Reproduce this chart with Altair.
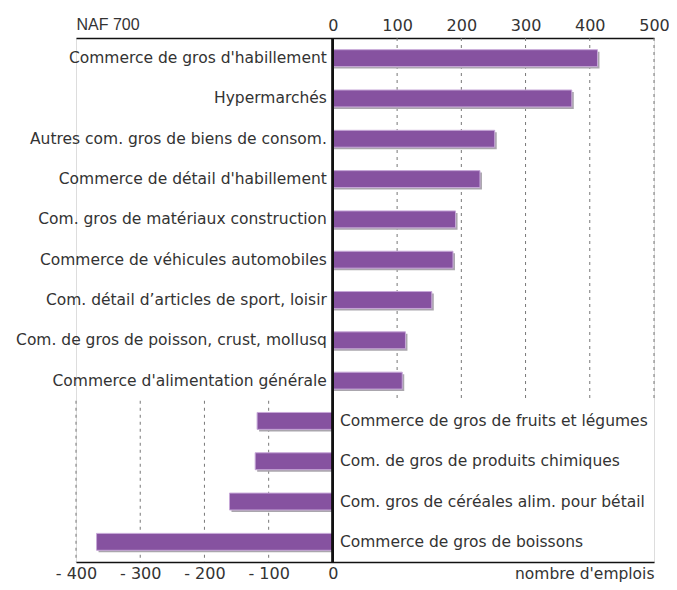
import altair as alt
import pandas as pd

categories = [
    "Commerce de gros d'habillement",
    "Hypermarchés",
    "Autres com. gros de biens de consom.",
    "Commerce de détail d'habillement",
    "Com. gros de matériaux construction",
    "Commerce de véhicules automobiles",
    "Com. détail d’articles de sport, loisir",
    "Com. de gros de poisson, crust, mollusq",
    "Commerce d'alimentation générale",
    "Commerce de gros de fruits et légumes",
    "Com. de gros de produits chimiques",
    "Com. gros de céréales alim. pour bétail",
    "Commerce de gros de boissons",
]
values = [412, 372, 252, 229, 191, 187, 154, 113, 108, -118, -121, -161, -368]
top_ticks = [0, 100, 200, 300, 400, 500]
bottom_ticks = [-400, -300, -200, -100, 0]
pos_grid = [100, 200, 300, 400, 500]
neg_grid = [-400, -300, -200, -100]

W, H = 578, 524
FONT = "DejaVu Sans"
TXT = "#333333"
LAB = 15.5
n_pos = sum(1 for v in values if v >= 0)
split = H * n_pos / len(categories)

df = pd.DataFrame({"cat": categories, "val": values})

xscale = alt.Scale(domain=[-400, 500], nice=False, zero=False)
yscale = alt.Scale(domain=categories, paddingInner=0.58, paddingOuter=0.29)

grid_pos = alt.Chart(pd.DataFrame({"g": pos_grid})).mark_rule(
    color="#777777", strokeDash=[3, 4], strokeWidth=1
).encode(
    x=alt.X("g:Q", scale=xscale, axis=None),
    y=alt.value(0), y2=alt.value(split),
)
grid_neg = alt.Chart(pd.DataFrame({"g": neg_grid})).mark_rule(
    color="#777777", strokeDash=[3, 4], strokeWidth=1
).encode(
    x=alt.X("g:Q", scale=xscale, axis=None),
    y=alt.value(split), y2=alt.value(H),
)

base = alt.Chart(df)
shadow = base.mark_bar(color="#aaa6ad", xOffset=2, yOffset=2).encode(
    x=alt.X("val:Q", scale=xscale, axis=None),
    x2=alt.datum(0),
    y=alt.Y("cat:N", scale=yscale, axis=None),
)
bars = base.mark_bar(color="#8652a0", stroke="#c7a8d8", strokeWidth=1).encode(
    x=alt.X("val:Q", scale=xscale, axis=alt.Axis(
        orient="top", values=top_ticks, grid=False, ticks=False,
        domain=True, domainColor="#111111", domainWidth=1.5,
        labelFont=FONT, labelFontSize=16, labelColor=TXT, labelPadding=5,
        labelFlush=False,
        title="NAF 700", titleFont="Liberation Sans", titleFontSize=16,
        titleFontWeight="normal", titleColor=TXT, titleAlign="left",
        titleAnchor="start", titleX=0, titleY=-14, titleBaseline="middle",
    )),
    x2=alt.datum(0),
    y=alt.Y("cat:N", scale=yscale, axis=None),
)
bottom_axis = alt.Chart(pd.DataFrame({"t": bottom_ticks})).mark_point(opacity=0).encode(
    x=alt.X("t:Q", scale=xscale, axis=alt.Axis(
        orient="bottom", values=bottom_ticks, grid=False, ticks=False,
        domain=True, domainColor="#111111", domainWidth=1.5,
        labelFont=FONT, labelFontSize=16, labelColor=TXT, labelPadding=3,
        labelFlush=False,
        labelExpr="datum.value < 0 ? '- ' + abs(datum.value) : '' + datum.value",
        title="nombre d'emplois", titleFont=FONT, titleFontSize=15.5,
        titleFontWeight="normal", titleColor=TXT, titleAlign="right",
        titleAnchor="end", titleX=W, titleY=11, titleBaseline="middle",
    )),
)
zero = base.mark_rule(color="#111111", strokeWidth=2).encode(
    x=alt.X("z:Q", scale=xscale, axis=None)
).transform_calculate(z="0")

lab_pos = base.transform_filter("datum.val >= 0").mark_text(
    align="right", baseline="middle", dx=-6, font=FONT, fontSize=LAB, color=TXT
).encode(
    x=alt.X("z:Q", scale=xscale, axis=None),
    y=alt.Y("cat:N", scale=yscale, axis=None),
    text="cat:N",
).transform_calculate(z="0")
lab_neg = base.transform_filter("datum.val < 0").mark_text(
    align="left", baseline="middle", dx=7, font=FONT, fontSize=LAB, color=TXT
).encode(
    x=alt.X("z:Q", scale=xscale, axis=None),
    y=alt.Y("cat:N", scale=yscale, axis=None),
    text="cat:N",
).transform_calculate(z="0")

chart = alt.layer(
    grid_pos, grid_neg, shadow, bars, zero, lab_pos, lab_neg, bottom_axis
).resolve_axis(x="independent").properties(
    width=W, height=H,
    autosize=alt.AutoSizeParams(type="none"),
    padding={"left": 68, "top": 30, "right": 15, "bottom": 20},
).configure_view(stroke=None).configure(background="white")

chart.save("out.html", embed_options={"renderer": "svg", "actions": False})
